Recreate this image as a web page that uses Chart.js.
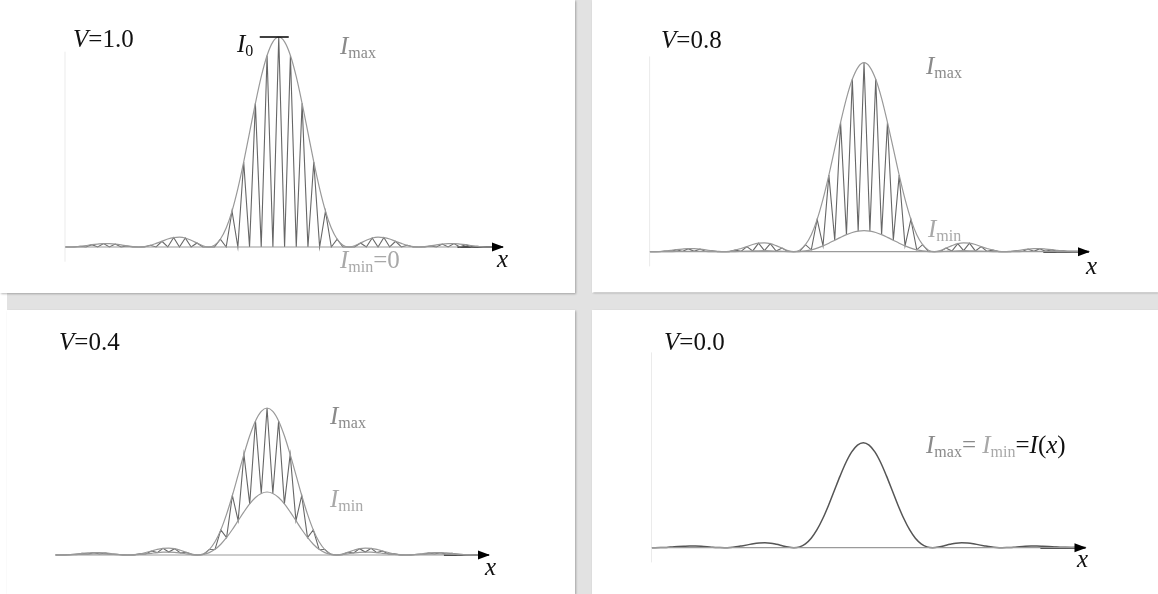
<!DOCTYPE html>
<html>
<head>
<meta charset="utf-8">
<script src="https://cdn.jsdelivr.net/npm/chart.js@4.4.0/dist/chart.umd.min.js"></script>
<style>
html, body { margin: 0; padding: 0; background: #fff; }
#page { position: relative; width: 1158px; height: 594px; overflow: hidden; background: #fff; }
.band { position: absolute; background: #e2e2e2; }
.panel { position: absolute; background: #fff; box-shadow: 1px 1px 2px rgba(0,0,0,0.28); }
.panel canvas { position: absolute; left: 0; top: 0; }
.lbl { position: absolute; font-family: "Liberation Serif", "DejaVu Serif", serif; font-size: 25px; line-height: 24px; white-space: nowrap; color: #111; }
.lbl sub { font-size: 16px; vertical-align: -4px; line-height: 0; }
.grey { color: #8a8a8a; }
.pale { color: #a8a8a8; }
</style>
</head>
<body>
<div id="page">
  <div class="band" style="left:575px;top:0;width:17px;height:594px"></div>
  <div class="band" style="left:7px;top:293px;width:1151px;height:17px"></div>
</div>
<script>
// visibility of each panel (TL, TR, BL, BR)
const visibility = [1.0, 0.8, 0.4, 0.0]
const panelTitles = ['<i>V</i>=1.0', '<i>V</i>=0.8', '<i>V</i>=0.4', '<i>V</i>=0.0']

// x in fringe periods, 0 = centre of pattern
const xRange = [-18.3, 19.2]
const arrowFrom = 15.3
const yAxisSpan = [-0.14, 1.86]

// sample positions: whole numbers = bright fringes, halves = dark fringes
const halfX = [-18.5, -18, -17.5, -17, -16.5, -16, -15.5, -15, -14.5, -14, -13.5, -13, -12.5, -12,
  -11.5, -11, -10.5, -10, -9.5, -9, -8.5, -8, -7.5, -7, -6.5, -6, -5.5, -5, -4.5, -4, -3.5, -3,
  -2.5, -2, -1.5, -1, -0.5, 0, 0.5, 1, 1.5, 2, 2.5, 3, 3.5, 4, 4.5, 5, 5.5, 6, 6.5, 7, 7.5, 8,
  8.5, 9, 9.5, 10, 10.5, 11, 11.5, 12, 12.5, 13, 13.5, 14, 14.5, 15, 15.5, 16, 16.5, 17, 17.5,
  18, 18.5, 19]

const meanI = [0.001, 0.000, 0.001, 0.003, 0.007, 0.011, 0.014, 0.016, 0.016, 0.014, 0.010, 0.005,
  0.002, 0.000, 0.002, 0.008, 0.017, 0.027, 0.038, 0.045, 0.047, 0.043, 0.032, 0.019, 0.006, 0.000,
  0.008, 0.037, 0.090, 0.171, 0.278, 0.405, 0.545, 0.684, 0.811, 0.912, 0.977, 1.000,
  0.977, 0.912, 0.811, 0.684, 0.545, 0.405, 0.278, 0.171, 0.090, 0.037, 0.008, 0.000, 0.006, 0.019,
  0.032, 0.043, 0.047, 0.045, 0.038, 0.027, 0.017, 0.008, 0.002, 0.000, 0.002, 0.005, 0.010, 0.014,
  0.016, 0.016, 0.014, 0.011, 0.007, 0.003, 0.001, 0.000, 0.001, 0.003]

// layout: panel box [left, top, w, h], plot [axisLeft, axisRight, baselineY]
const panels = [
  { box: [0, 0, 575, 293], plot: [65, 503, 247], yLine: true },
  { box: [592, 0, 566, 292], plot: [649.6, 1089, 251.7], yLine: true },
  { box: [7, 310, 568, 284], plot: [55.5, 489, 555], yLine: false },
  { box: [592, 310, 566, 284], plot: [651.5, 1085.5, 547.7], yLine: true }
]
const yMin = -0.2, yMax = 2.1, yUnit = 105

// text labels: [panel, html, left, baseline, class]
const labels = [
  [0, panelTitles[0], 73, 47, ''],
  [0, '<i>I</i><sub>0</sub>', 237, 52, ''],
  [0, '<i>I</i><sub>max</sub>', 340, 54, 'grey'],
  [0, '<i>I</i><sub>min</sub>=0', 340, 268, 'pale'],
  [0, '<i>x</i>', 497, 267, ''],
  [1, panelTitles[1], 661, 48, ''],
  [1, '<i>I</i><sub>max</sub>', 926, 74, 'grey'],
  [1, '<i>I</i><sub>min</sub>', 928, 237, 'pale'],
  [1, '<i>x</i>', 1086, 274, ''],
  [2, panelTitles[2], 59, 350, ''],
  [2, '<i>I</i><sub>max</sub>', 330, 424, 'grey'],
  [2, '<i>I</i><sub>min</sub>', 330, 507, 'pale'],
  [2, '<i>x</i>', 485, 575, ''],
  [3, panelTitles[3], 664, 350, ''],
  [3, '<span class="grey"><i>I</i><sub>max</sub>=</span> <span class="pale"><i>I</i><sub>min</sub></span>=<i>I</i>(<i>x</i>)', 926, 453, ''],
  [3, '<i>x</i>', 1077, 567, '']
]

const page = document.getElementById('page')

const arrowHead = {
  id: 'arrowHead',
  afterDatasetsDraw(chart) {
    const { ctx, scales: { x, y } } = chart
    const tx = x.getPixelForValue(xRange[1]), ty = y.getPixelForValue(0)
    ctx.save()
    ctx.fillStyle = '#000'
    ctx.beginPath()
    ctx.moveTo(tx + 1, ty)
    ctx.lineTo(tx - 11, ty - 4.5)
    ctx.lineTo(tx - 11, ty + 4.5)
    ctx.closePath()
    ctx.fill()
    ctx.restore()
  }
}

// the I0 tick at the top of the central fringe (first panel only)
const peakBar = {
  id: 'peakBar',
  afterDatasetsDraw(chart, args, opts) {
    if (!opts.show) return
    const { ctx, scales: { x, y } } = chart
    const cx = x.getPixelForValue(0)
    const py = y.getPixelForValue(Math.max(...meanI) * (1 + visibility[0]))
    ctx.save()
    ctx.strokeStyle = '#000'
    ctx.lineWidth = 1.5
    ctx.beginPath()
    ctx.moveTo(cx - 19, py)
    ctx.lineTo(cx + 10, py)
    ctx.stroke()
    ctx.restore()
  }
}

panels.forEach((p, k) => {
  const [bl, bt, bw, bh] = p.box
  const [al, ar, base] = p.plot
  const div = document.createElement('div')
  div.className = 'panel'
  div.style.cssText = `left:${bl}px;top:${bt}px;width:${bw}px;height:${bh}px`
  const cv = document.createElement('canvas')
  cv.width = bw; cv.height = bh
  cv.style.width = bw + 'px'; cv.style.height = bh + 'px'
  div.appendChild(cv)
  page.appendChild(div)

  const V = visibility[k]
  const pts = f => halfX.map((x, i) => ({ x, y: f(i, x) }))
  const datasets = []

  // baseline
  datasets.push({ data: [{ x: xRange[0], y: 0 }, { x: xRange[1], y: 0 }], borderColor: '#9a9a9a', borderWidth: 1.2, pointRadius: 0 })
  if (p.yLine) {
    datasets.push({ data: [{ x: xRange[0], y: yAxisSpan[0] }, { x: xRange[0], y: yAxisSpan[1] }], borderColor: '#ebebeb', borderWidth: 1, pointRadius: 0, clip: false })
  }
  if (V > 0) {
    // Imax, Imin envelopes
    datasets.push({ data: pts(i => meanI[i] * (1 + V)), borderColor: '#999', borderWidth: 1.2, pointRadius: 0, cubicInterpolationMode: 'monotone' })
    if (V < 1) {
      datasets.push({ data: pts(i => meanI[i] * (1 - V)), borderColor: '#999', borderWidth: 1.2, pointRadius: 0, cubicInterpolationMode: 'monotone' })
    }
    // fringes
    datasets.push({ data: pts((i, x) => meanI[i] * (Number.isInteger(x) ? 1 + V : 1 - V)), borderColor: '#666', borderWidth: 1.1, pointRadius: 0, tension: 0 })
  } else {
    datasets.push({ data: pts(i => meanI[i]), borderColor: '#555', borderWidth: 1.5, pointRadius: 0, cubicInterpolationMode: 'monotone' })
  }
  // black arrow shaft
  datasets.push({ data: [{ x: arrowFrom, y: 0 }, { x: xRange[1], y: 0 }], borderColor: '#000', borderWidth: 2, pointRadius: 0, clip: false })

  new Chart(cv, {
    type: 'line',
    data: { datasets },
    options: {
      responsive: false,
      animation: false,
      events: [],
      layout: {
        padding: {
          left: al - bl,
          right: bl + bw - ar,
          top: base - yMax * yUnit - bt,
          bottom: bt + bh - (base - yMin * yUnit)
        }
      },
      plugins: { legend: { display: false }, tooltip: { enabled: false }, peakBar: { show: k === 0 } },
      scales: {
        x: { type: 'linear', min: xRange[0], max: xRange[1], display: false },
        y: { type: 'linear', min: yMin, max: yMax, display: false }
      }
    },
    plugins: [arrowHead, peakBar]
  })
})

labels.forEach(([k, html, left, baseline, cls]) => {
  const el = document.createElement('div')
  el.className = 'lbl ' + cls
  el.innerHTML = html
  el.style.left = left + 'px'
  el.style.top = (baseline - 20) + 'px'
  page.appendChild(el)
})
</script>
</body>
</html>
